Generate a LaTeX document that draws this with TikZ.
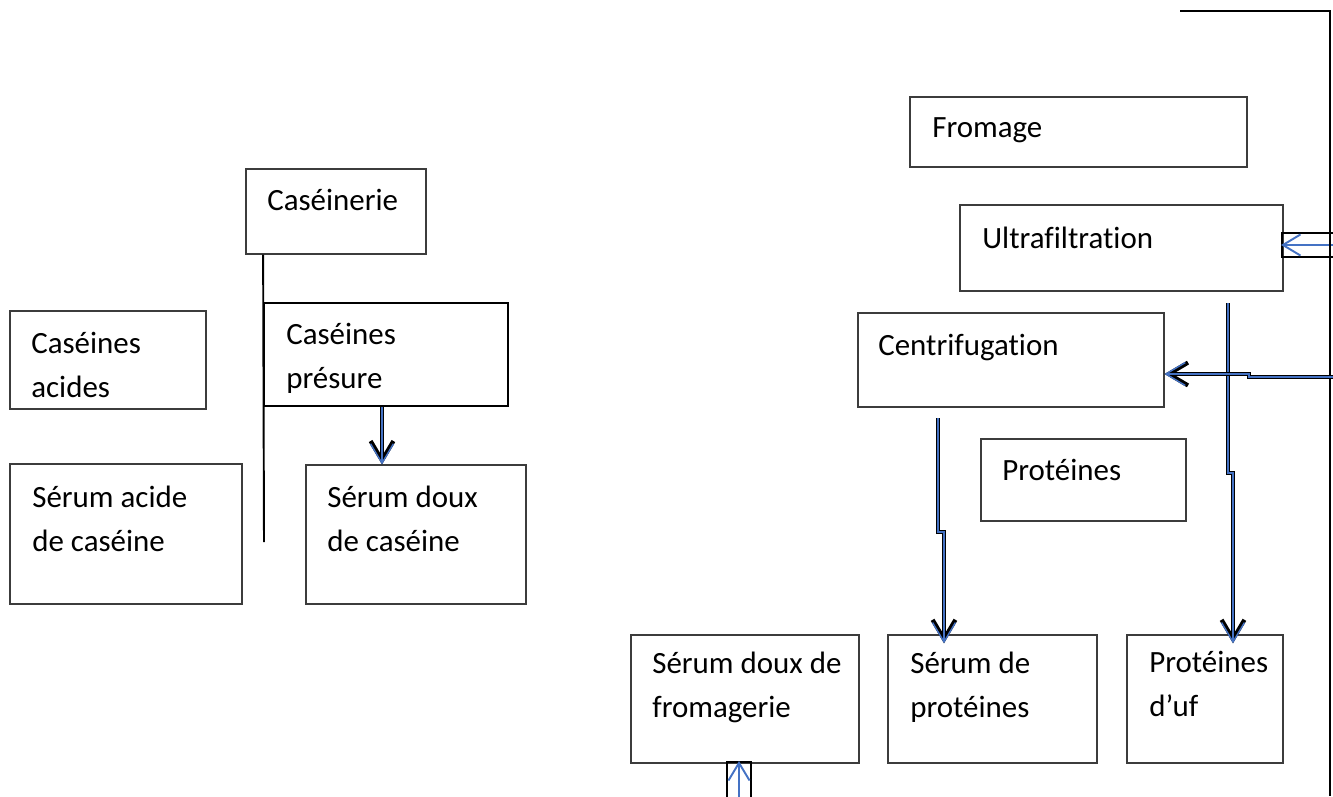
\documentclass[tikz,border=0pt]{standalone}
\usepackage{fontspec}
\setmainfont[Ligatures=CommonOff]{Carlito}
\usetikzlibrary{arrows.meta,fit}
\definecolor{wordblue}{RGB}{68,114,196}
\definecolor{edgegrey}{RGB}{60,60,60}

\begin{document}
\begin{tikzpicture}[x=0.02cm, y=-0.02cm,
    box/.style={draw=edgegrey, line width=0.6pt, inner sep=0pt},
    lbl/.style={anchor=base west, align=left, inner sep=0pt,
      font=\fontsize{17.6}{24.5}\selectfont},
    flow/.style={preaction={draw=black, line width=2.4pt,
        -{Straight Barb[length=11pt,width=13pt]}},
      draw=wordblue, line width=0.8pt,
      -{Straight Barb[length=11pt,width=13pt]}},
    feed/.style={wordblue, line width=1.1pt,
      -{Straight Barb[length=10pt,width=12pt]}}]
  \useasboundingbox (0,0) rectangle (1333,796);
  % Casein plant (label nodes sit on their last baseline)
  \node[box, fit={(246,169) (426,254)}] (caseinerie) {};
  \node[lbl] (caseinerieT) at (267,210) {Caséinerie};
  \node[box, fit={(10,311) (206,409)}] (acides) {};
  \node[lbl] (acidesT) at (31,397) {Caséines\\acides};
  \node[box, draw=black, line width=1pt, fit={(264,303) (508,406)}] (presure) {};
  \node[lbl] (presureT) at (286,388) {Caséines\\présure};
  \node[box, fit={(10,464) (242,604)}] (serumacide) {};
  \node[lbl] (serumacideT) at (32,551) {Sérum acide\\de caséine};
  \node[box, fit={(306,465) (526,604)}] (serumdoux) {};
  \node[lbl] (serumdouxT) at (327,551) {Sérum doux\\de caséine};
  \coordinate (trunkEnd) at (264,542);
  \draw[line width=1.1pt] (caseinerie.south -| presure.west) -- (trunkEnd);
  \draw[flow] (presure.south -| 382,0) -- (serumdoux.north -| 382,0);
  % Cheese and whey side
  \node[box, fit={(910,97) (1247,167)}] (fromage) {};
  \node[lbl] (fromageT) at (932,137) {Fromage};
  \node[box, fit={(960,205) (1283,291)}] (ultra) {};
  \node[lbl] (ultraT) at (982,248) {Ultrafiltration};
  \node[box, fit={(858,313) (1164,407)}] (centri) {};
  \node[lbl] (centriT) at (878,355) {Centrifugation};
  \node[box, fit={(981,439) (1186,521)}] (proteines) {};
  \node[lbl] (proteinesT) at (1002,480) {Protéines};
  \node[box, fit={(631,635) (859,763)}] (serumfrom) {};
  \node[lbl] (serumfromT) at (652,717) {Sérum doux de\\fromagerie};
  \node[box, fit={(888,635) (1097,763)}] (serumprot) {};
  \node[lbl] (serumprotT) at (910,717) {Sérum de\\protéines};
  \node[box, fit={(1127,635) (1283,763)}] (oeuf) {};
  \node[lbl] (oeufT) at (1149,716) {Protéines\\d’uf};
  % Inlets
  \node[box, draw=black, line width=1.1pt, fit={(1282,233) (1345,257)}] (inletU) {};
  \node[box, draw=black, line width=1.1pt, fit={(727,762) (751,805)}] (inletB) {};
  \draw[feed] (inletU.east) -- (inletU.west);
  \draw[feed] (inletB.south) -- (inletB.north);
  % Return line
  \coordinate (railTop) at (1180,11);
  \coordinate (railCorner) at (1330,11);
  \coordinate (railEnd) at (1330,796);
  \draw[line width=1.1pt] (railTop) -- (railCorner) -- (railEnd);
  % Separation flows
  \coordinate (centriOut) at (938,418);
  \coordinate (ultraOut) at (1228,303);
  \coordinate (railIn) at (1333,377);
  \draw[flow, shorten >=-5pt] (centriOut) -- (938,532) -- (944,532)
    -- (serumprot.north -| 944,0);
  \draw[flow, shorten >=-5pt] (ultraOut) -- (1228,473) -- (1233,473)
    -- (oeuf.north -| 1233,0);
  \draw[flow] (railIn) -- (1249,377) -- (1249,374) -- (centri.east |- 0,374);
\end{tikzpicture}
\end{document}
